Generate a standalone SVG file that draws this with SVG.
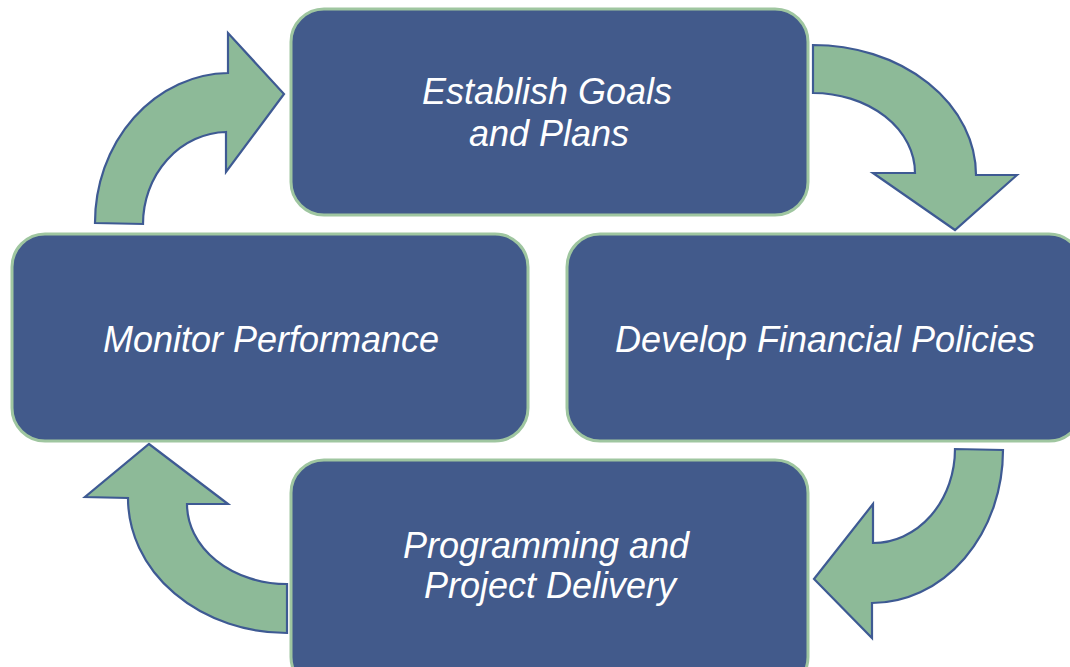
<svg xmlns="http://www.w3.org/2000/svg" width="1070" height="667" viewBox="0 0 1070 667">
<style>
.box{fill:#425a8b;stroke:#9fc6a0;stroke-width:3}
.arr{fill:#8dba98;stroke:#3e5a93;stroke-width:2.2;stroke-linejoin:miter}
.lbl{font-family:"Liberation Sans",Arial,sans-serif;font-style:italic;font-size:36px;fill:#ffffff;text-anchor:middle}
</style>
<rect width="1070" height="667" fill="#ffffff"/>
<g id="connectors">
<path class="arr" d="M95,223 A135 150 0 0 1 228,73 L228,33 L284,94 L226,172 L226,132 A85 92 0 0 0 143,224 Z"/>
<path class="arr" d="M813,45 A163 130 0 0 1 976,175 L1017,175 L955,230 L873,173 L915,173 A102 80 0 0 0 813,93 Z"/>
<path class="arr" d="M1003,450 A131 153 0 0 1 872,603 L872,638 L814,579 L873,504 L873,543 A82 94 0 0 0 955,449 Z"/>
<path class="arr" d="M287,633 A159 135 0 0 1 128,498 L85,497 L149,444 L228,504 L187,504 A100 80 0 0 0 287,584 Z"/>
</g>
<g id="node-goals">
<rect class="box" x="291" y="9" width="517" height="206" rx="33"/>
<text class="lbl" x="547" y="104">Establish Goals</text>
<text class="lbl" x="549" y="146">and Plans</text>
</g>
<g id="node-monitor">
<rect class="box" x="12" y="234" width="516" height="207" rx="33"/>
<text class="lbl" x="271" y="352">Monitor Performance</text>
</g>
<g id="node-policies">
<rect class="box" x="567" y="234" width="515" height="207" rx="33"/>
<text class="lbl" x="825" y="352">Develop Financial Policies</text>
</g>
<g id="node-programming">
<rect class="box" x="291" y="460" width="517" height="230" rx="33"/>
<text class="lbl" x="546" y="558">Programming and</text>
<text class="lbl" x="550" y="598">Project Delivery</text>
</g>
</svg>
